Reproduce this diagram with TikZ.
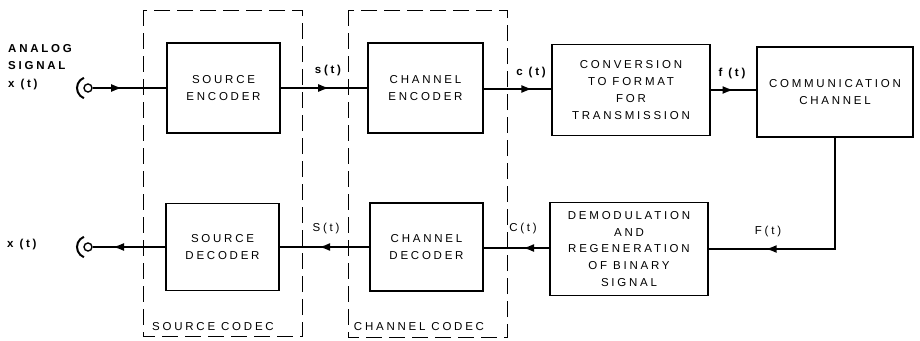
\documentclass[tikz,border=0pt]{standalone}
\usepackage{fontspec}
\setmainfont{Liberation Sans}[LetterSpace=24]
\usetikzlibrary{arrows.meta,decorations.markings}
\begin{document}
\begin{tikzpicture}[x=1pt,y=-1pt,
  blk/.style={draw,line width=1.4pt,align=center,inner sep=0pt,font=\fontsize{11.5}{16.7}\selectfont},
  codec/.style={draw,line width=1pt,dash pattern=on 16pt off 7pt},
  sig/.style={line width=1.5pt},
  lbl/.style={font=\bfseries\fontsize{11.5}{13}\selectfont,inner sep=0pt},
  midarrow/.style={postaction={decorate},decoration={markings,mark=at position #1 with {\arrow{Latex[length=11pt,width=8pt]}}}},
  jack/.style={circle,draw,line width=1.4pt,minimum size=8pt,inner sep=0pt}]
\useasboundingbox (0,0) rectangle (920,340);
% codec frames
\draw[codec] (143,10) rectangle (302,336);
\draw[codec] (348,10) rectangle (507,337);
\node[font=\fontsize{11.5}{13}\selectfont,inner sep=0pt] (scl) at (213,327) {SOURCE CODEC};
\node[font=\fontsize{11.5}{13}\selectfont,inner sep=0pt] (ccl) at (419,327) {CHANNEL CODEC};
% top row
\node[blk,minimum width=113pt,minimum height=90pt] (se) at (223.5,88) {SOURCE\\ENCODER};
\node[blk,minimum width=115pt,minimum height=90pt] (ce) at (425.5,88) {CHANNEL\\ENCODER};
\node[blk,minimum width=158pt,minimum height=91pt] (cv) at (631,90) {CONVERSION\\TO FORMAT\\FOR\\TRANSMISSION};
\node[blk,minimum width=156pt,minimum height=90pt] (cc) at (835,92) {COMMUNICATION\\CHANNEL};
% bottom row
\node[blk,minimum width=113pt,minimum height=87pt] (sd) at (222.5,247) {SOURCE\\DECODER};
\node[blk,minimum width=113pt,minimum height=88pt] (cd) at (426.5,247) {CHANNEL\\DECODER};
\node[blk,minimum width=158pt,minimum height=93pt] (dm) at (629,249) {DEMODULATION\\AND\\REGENERATION\\OF BINARY\\SIGNAL};
% jacks
\node[jack] (in) at (88,88) {};
\draw[line width=2pt] ([shift={(112:11pt)}]in.center) arc[start angle=112,end angle=248,radius=11pt];
\node[jack] (out) at (88,247) {};
\draw[line width=2pt] ([shift={(112:11pt)}]out.center) arc[start angle=112,end angle=248,radius=11pt];
% signal lines
\draw[sig,midarrow=0.40] (in.east) -- (se.west |- in.east);
\draw[sig,midarrow=0.56] (se.east |- in.east) -- (ce.west |- in.east);
\draw[sig,midarrow=0.72] (ce.east |- 0,89) -- (cv.west |- 0,89);
\draw[sig,midarrow=0.50] (cv.east |- 0,90) -- (cc.west |- 0,90);
\draw[sig,midarrow=0.76] (cc.south) |- (dm.east |- 0,249);
\draw[sig,midarrow=0.40] (dm.west |- 0,248) -- (cd.east |- 0,248);
\draw[sig,midarrow=0.56] (cd.west |- 0,247) -- (sd.east |- 0,247);
\draw[sig,midarrow=0.72] (sd.west |- out.west) -- (out.east);
% labels
\node[lbl,anchor=west,align=left,font=\bfseries\fontsize{11.5}{17.5}\selectfont] (al) at (8,67) {ANALOG\\SIGNAL\\x (t)};
\node[lbl] (ls) at (328,71) {s(t)};
\node[lbl] (lc) at (531,73) {c (t)};
\node[lbl] (lf) at (732,74) {f (t)};
\node[lbl,font=\fontsize{11.5}{13}\selectfont] (lF) at (768,232) {F(t)};
\node[lbl,font=\fontsize{11.5}{13}\selectfont] (lC) at (523,229) {C(t)};
\node[lbl,font=\fontsize{11.5}{13}\selectfont] (lS) at (326,229) {S(t)};
\node[lbl,anchor=west] (lx) at (7,245) {x (t)};
\end{tikzpicture}
\end{document}
